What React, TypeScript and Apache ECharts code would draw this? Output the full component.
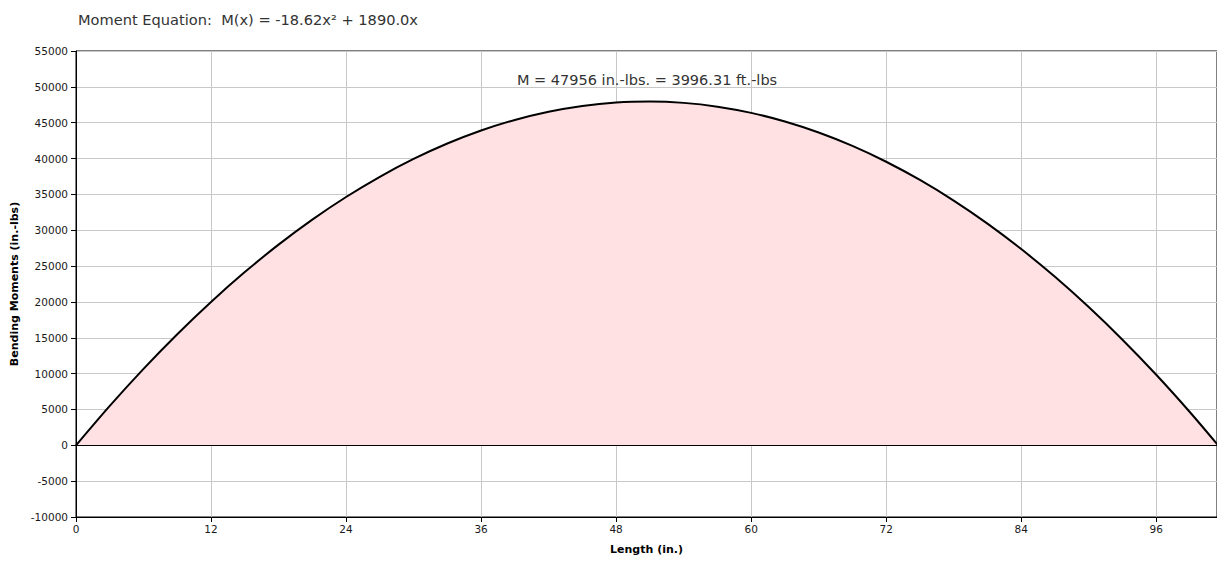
import React, { useEffect, useRef } from "react";
import * as echarts from "echarts";

const lengths = [0, 3, 6, 9, 12, 15, 18, 21, 24, 27, 30, 33, 36, 39, 42, 45, 48, 51, 54, 57, 60, 63, 66, 69, 72, 75, 78, 81, 84, 87, 90, 93, 96, 99, 101.5];
const moments = [0, 5502, 10670, 15502, 19999, 24160, 27987, 31479, 34635, 37456, 39942, 42093, 43909, 45387, 46534, 47344, 47820, 47959, 47764, 47234, 46368, 45167, 43631, 41760, 39554, 37012, 34136, 30924, 27377, 23495, 19278, 14726, 9838, 4615, 0];
const peakLength = 50.75;
const peakMoment = 47956;
const titleText = "Moment Equation:  M(x) = -18.62x\u00b2 + 1890.0x";
const peakLabel = "M = 47956 in.-lbs. = 3996.31 ft.-lbs";
const xAxisName = "Length (in.)";
const yAxisName = "Bending Moments (in.-lbs)";

const FONT = "'DejaVu Sans', 'Liberation Sans', Arial, sans-serif";

export default function App() {
  const ref = useRef<HTMLDivElement>(null);
  useEffect(() => {
    if (!ref.current) return;
    const chart = echarts.init(ref.current, null, { renderer: "svg" });
    chart.setOption({
      animation: false,
      backgroundColor: "#fff",
      title: {
        text: titleText,
        left: 73,
        top: 7,
        textStyle: { fontFamily: FONT, fontSize: 14.6, fontWeight: "normal", color: "#333" },
      },
      grid: {
        left: 76,
        right: 0,
        top: 51,
        height: 466,
        show: true,
        borderColor: "#000",
        borderWidth: 1,
        containLabel: false,
      },
      xAxis: {
        type: "value",
        min: 0,
        max: 101.4,
        interval: 12,
        name: xAxisName,
        nameLocation: "middle",
        nameGap: 27,
        nameTextStyle: { fontFamily: FONT, fontSize: 11, fontWeight: "bold", color: "#000" },
        axisLine: { show: true, onZero: false, lineStyle: { color: "#000", width: 1 } },
        axisTick: { show: true, length: 5, lineStyle: { color: "#000" } },
        axisLabel: {
          fontFamily: FONT,
          fontSize: 10.5,
          color: "#1a1a1a",
          margin: 6,
          showMaxLabel: false,
          formatter: (v: number) => (v % 12 === 0 ? String(v) : ""),
        },
        splitLine: { show: true, lineStyle: { color: "#c8c8c8", width: 1 } },
      },
      yAxis: {
        type: "value",
        min: -10000,
        max: 55000,
        interval: 5000,
        name: yAxisName,
        nameLocation: "middle",
        nameGap: 51,
        nameTextStyle: { fontFamily: FONT, fontSize: 11, fontWeight: "bold", color: "#000" },
        axisLine: { show: true, lineStyle: { color: "#000", width: 1 } },
        axisTick: { show: true, length: 5, lineStyle: { color: "#000" } },
        axisLabel: {
          fontFamily: FONT,
          fontSize: 10.5,
          color: "#1a1a1a",
          margin: 8,
          formatter: (v: number) => String(v),
        },
        splitLine: { show: true, lineStyle: { color: "#c8c8c8", width: 1 } },
      },
      series: [
        {
          type: "line",
          data: lengths.map((x, i) => [x, moments[i]]),
          smooth: 0.3,
          showSymbol: false,
          symbol: "none",
          lineStyle: { color: "#000", width: 2 },
          areaStyle: { color: "#ffe1e3", opacity: 1, origin: 0 },
          markLine: {
            silent: true,
            symbol: "none",
            label: { show: false },
            lineStyle: { color: "#000", width: 1, type: "solid" },
            data: [{ yAxis: 0 }],
          },
          markPoint: {
            silent: true,
            symbol: "circle",
            symbolSize: 0,
            data: [{ coord: [peakLength, peakMoment] }],
            label: {
              show: true,
              position: "top",
              distance: 14,
              formatter: peakLabel,
              fontFamily: FONT,
              fontSize: 14.5,
              color: "#333",
            },
          },
        },
      ],
    });
    return () => chart.dispose();
  }, []);
  return (
    <div
      ref={ref}
      style={{ position: "absolute", left: 0, top: 0, width: 1217, height: 563 }}
    />
  );
}
